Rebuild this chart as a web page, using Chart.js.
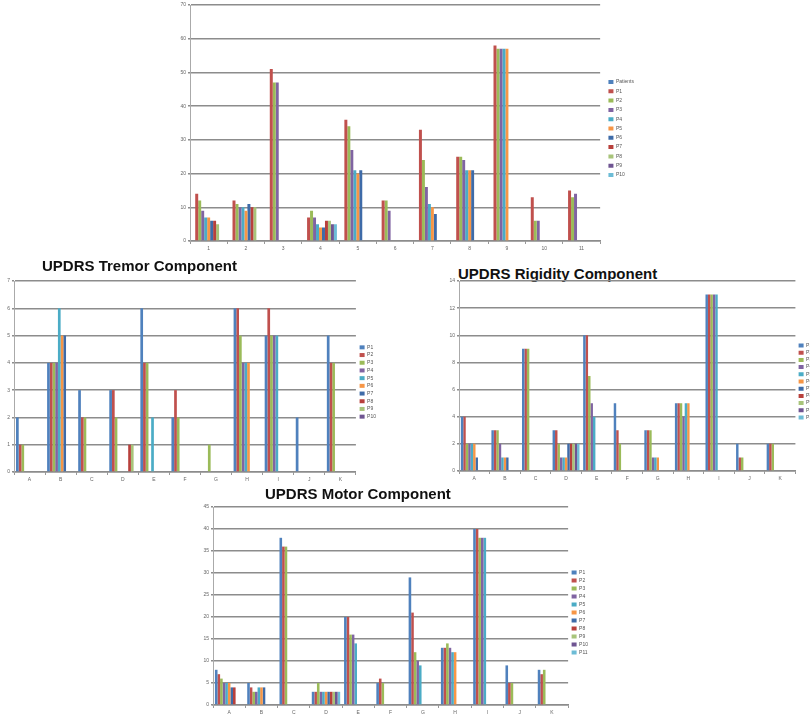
<!DOCTYPE html>
<html>
<head>
<meta charset="utf-8">
<script src="https://cdn.jsdelivr.net/npm/chart.js@4.4.1/dist/chart.umd.min.js"></script>
<style>
body { margin: 0; background: #fff; width: 810px; height: 718px; overflow: hidden; position: relative; font-family: "Liberation Sans", Arial, sans-serif; }
.box { position: absolute; }
.title { position: absolute; font-weight: bold; font-size: 15px; line-height: 15px; color: #111; white-space: nowrap; }
</style>
</head>
<body>
<div class="box" style="left:176px;top:0px;width:476px;height:258px"><canvas id="overall"></canvas></div>
<div class="title" style="left:42px;top:258px">UPDRS Tremor Component</div>
<div class="box" style="left:0px;top:276px;width:392px;height:211px"><canvas id="tremor"></canvas></div>
<div class="title" style="left:458px;top:266px">UPDRS Rigidity Component</div>
<div class="box" style="left:445px;top:276px;width:380px;height:210px"><canvas id="rigidity"></canvas></div>
<div class="title" style="left:265px;top:486px">UPDRS Motor Component</div>
<div class="box" style="left:199px;top:500px;width:400px;height:218px"><canvas id="motor"></canvas></div>
<script>
// excel-ish series colours
const palette = ['#4F81BD', '#C0504D', '#9BBB59', '#8064A2', '#4BACC6', '#F79646',
                 '#3E6BA8', '#B8403C', '#A8C47A', '#6F5592', '#6DBCD6'];

// top chart: categories 1..11, one row per category (Patients, P1..P10)
const overallCategories = ['1', '2', '3', '4', '5', '6', '7', '8', '9', '10', '11'];
const overallSeries = ['Patients', 'P1', 'P2', 'P3', 'P4', 'P5', 'P6', 'P7', 'P8', 'P9', 'P10'];
const overallRows = [
  [0, 14, 12, 9, 7, 7, 6, 6, 5, 0, 0],
  [0, 12, 11, 10, 10, 9, 11, 10, 10, 0, 0],
  [0, 51, 47, 47, 0, 0, 0, 0, 0, 0, 0],
  [0, 7, 9, 7, 5, 4, 4, 6, 6, 5, 5],
  [0, 36, 34, 27, 21, 20, 21, 0, 0, 0, 0],
  [0, 12, 12, 9, 0, 0, 0, 0, 0, 0, 0],
  [0, 33, 24, 16, 11, 10, 8, 0, 0, 0, 0],
  [0, 25, 25, 24, 21, 21, 21, 0, 0, 0, 0],
  [0, 58, 57, 57, 57, 57, 0, 0, 0, 0, 0],
  [0, 13, 6, 6, 0, 0, 0, 0, 0, 0, 0],
  [0, 15, 13, 14, 0, 0, 0, 0, 0, 0, 0]
];

const letters = ['A', 'B', 'C', 'D', 'E', 'F', 'G', 'H', 'I', 'J', 'K'];

const tremorSeries = ['P1', 'P2', 'P3', 'P4', 'P5', 'P6', 'P7', 'P8', 'P9', 'P10'];
const tremorRows = [
  [2, 1, 1, 0, 0, 0, 0, 0, 0, 0],
  [4, 4, 4, 4, 6, 5, 5, 0, 0, 0],
  [3, 2, 2, 0, 0, 0, 0, 0, 0, 0],
  [3, 3, 2, 0, 0, 0, 0, 1, 1, 0],
  [6, 4, 4, 0, 2, 0, 0, 0, 0, 0],
  [2, 3, 2, 0, 0, 0, 0, 0, 0, 0],
  [0, 0, 1, 0, 0, 0, 0, 0, 0, 0],
  [6, 6, 5, 4, 4, 4, 0, 0, 0, 0],
  [5, 6, 5, 5, 5, 0, 0, 0, 0, 0],
  [2, 0, 0, 0, 0, 0, 0, 0, 0, 0],
  [5, 4, 4, 0, 0, 0, 0, 0, 0, 0]
];

const rigiditySeries = ['P1', 'P2', 'P3', 'P4', 'P5', 'P6', 'P7', 'P8', 'P9', 'P10', 'P11'];
const rigidityRows = [
  [4, 4, 2, 2, 2, 2, 1, 0, 0, 0, 0],
  [3, 3, 3, 2, 1, 1, 1, 0, 0, 0, 0],
  [9, 9, 9, 0, 0, 0, 0, 0, 0, 0, 0],
  [3, 3, 2, 1, 1, 1, 2, 2, 2, 2, 2],
  [10, 10, 7, 5, 4, 0, 0, 0, 0, 0, 0],
  [5, 3, 2, 0, 0, 0, 0, 0, 0, 0, 0],
  [3, 3, 3, 1, 1, 1, 0, 0, 0, 0, 0],
  [5, 5, 5, 4, 5, 5, 0, 0, 0, 0, 0],
  [13, 13, 13, 13, 13, 0, 0, 0, 0, 0, 0],
  [2, 1, 1, 0, 0, 0, 0, 0, 0, 0, 0],
  [2, 2, 2, 0, 0, 0, 0, 0, 0, 0, 0]
];

const motorSeries = ['P1', 'P2', 'P3', 'P4', 'P5', 'P6', 'P7', 'P8', 'P9', 'P10', 'P11'];
const motorRows = [
  [8, 7, 6, 5, 5, 5, 4, 4, 0, 0, 0],
  [5, 4, 3, 3, 4, 4, 4, 0, 0, 0, 0],
  [38, 36, 36, 0, 0, 0, 0, 0, 0, 0, 0],
  [3, 3, 5, 3, 3, 3, 3, 3, 3, 3, 3],
  [20, 20, 16, 16, 14, 0, 0, 0, 0, 0, 0],
  [5, 6, 5, 0, 0, 0, 0, 0, 0, 0, 0],
  [29, 21, 12, 10, 9, 0, 0, 0, 0, 0, 0],
  [13, 13, 14, 13, 12, 12, 0, 0, 0, 0, 0],
  [40, 40, 38, 38, 38, 0, 0, 0, 0, 0, 0],
  [9, 5, 5, 0, 0, 0, 0, 0, 0, 0, 0],
  [8, 7, 8, 0, 0, 0, 0, 0, 0, 0, 0]
];

function barChart(id, cats, names, rows, yMax, yStep, cfg) {
  const datasets = names.map((n, s) => ({
    label: n,
    data: rows.map(r => r[s]),
    backgroundColor: palette[s],
    categoryPercentage: cfg.catPct,
    barPercentage: 1
  }));
  return new Chart(document.getElementById(id), {
    type: 'bar',
    data: { labels: cats, datasets: datasets },
    options: {
      responsive: true,
      maintainAspectRatio: false,
      animation: false,
      layout: { padding: cfg.pad },
      plugins: {
        legend: {
          position: 'right',
          labels: { boxWidth: 5, boxHeight: 4, padding: cfg.legPad, font: { size: 5 }, color: '#555' }
        },
        tooltip: { enabled: false }
      },
      scales: {
        x: {
          grid: { drawOnChartArea: false, tickLength: 3, color: '#999' },
          border: { color: '#8c8c8c', width: 1.4 },
          ticks: { font: { size: 5 }, color: '#666', padding: 2 }
        },
        y: {
          min: 0, max: yMax,
          ticks: { stepSize: yStep, font: { size: 5 }, color: '#666', padding: 2 },
          grid: { color: '#8c8c8c', lineWidth: 1.4, tickLength: 2 },
          border: { color: '#aaa' },
          afterFit: s => { s.width = cfg.yw; }
        },
        gap: {
          position: 'right', display: true,
          grid: { display: false }, border: { display: false }, ticks: { display: false },
          afterFit: s => { s.width = cfg.gap; }
        }
      }
    }
  });
}

barChart('overall', overallCategories, overallSeries, overallRows, 70, 10,
  { catPct: 0.88, yw: 14, gap: 4, legPad: 4.3, pad: { top: 3, right: 8, bottom: 4, left: 0 } });
barChart('tremor', letters, tremorSeries, tremorRows, 7, 1,
  { catPct: 0.87, yw: 14, gap: 1, legPad: 2.7, pad: { top: 3, right: 6, bottom: 2, left: 0 } });
barChart('rigidity', letters, rigiditySeries, rigidityRows, 14, 2,
  { catPct: 0.88, yw: 14, gap: 1, legPad: 2.2, pad: { top: 3, right: 0, bottom: 2, left: 0 } });
barChart('motor', letters, motorSeries, motorRows, 45, 5,
  { catPct: 0.88, yw: 14, gap: 0.5, legPad: 3, pad: { top: 7, right: 1, bottom: 0, left: 0 } });
</script>
</body>
</html>
